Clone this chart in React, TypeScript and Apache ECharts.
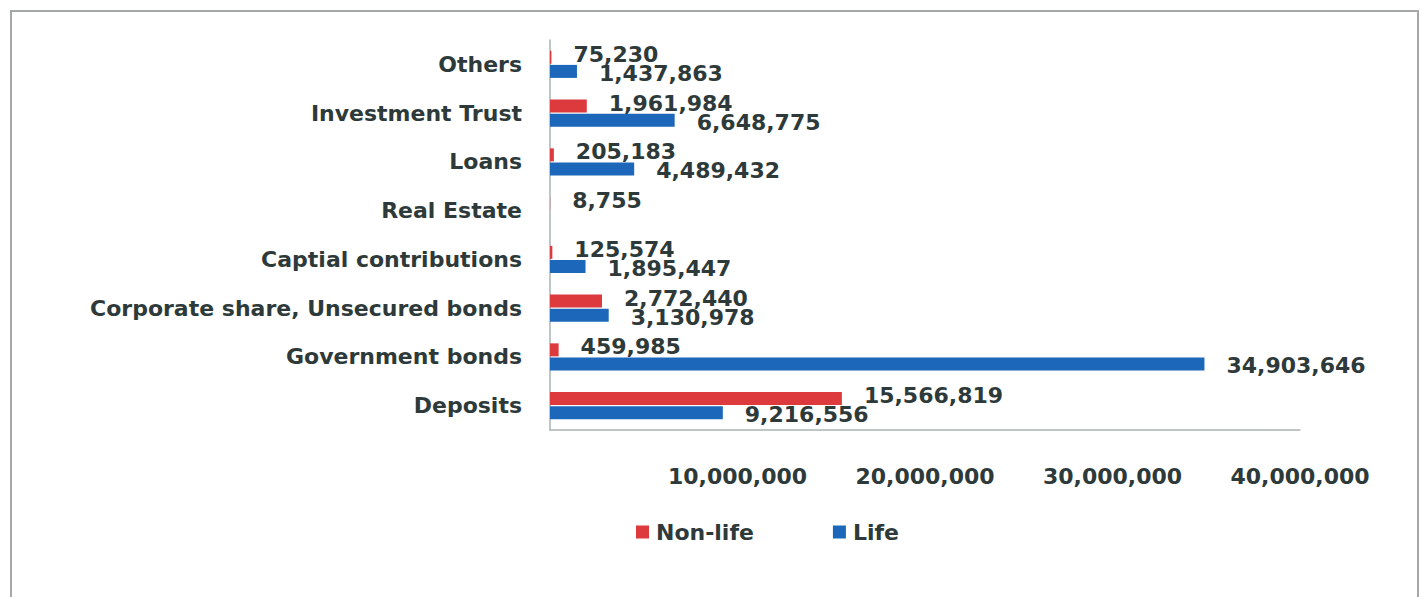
import React, { useEffect, useRef } from "react";
import * as echarts from "echarts";

const categories = [
  "Deposits",
  "Government bonds",
  "Corporate share, Unsecured bonds",
  "Captial contributions",
  "Real Estate",
  "Loans",
  "Investment Trust",
  "Others",
];
const nonLifeValues: (number | string)[] = [15566819, 459985, 2772440, 125574, 8755, 205183, 1961984, 75230];
const lifeValues: (number | string)[] = [9216556, 34903646, 3130978, 1895447, "-", 4489432, 6648775, 1437863];
const seriesNames = ["Non-life", "Life"];
const xTicks = { min: 0, max: 40000000, interval: 10000000 };

const RED = "#dc3a3c";
const BLUE = "#1c67ba";
const TEXT = "#2e3a3a";
const FONT = "DejaVu Sans";

const fmt = (v: number) => Math.round(v).toLocaleString("en-US");

export default function App() {
  const ref = useRef<HTMLDivElement>(null);
  useEffect(() => {
    if (!ref.current) return;
    const chart = echarts.init(ref.current, null, { renderer: "svg" });
    const labelBase = {
      show: true,
      position: "right" as const,
      distance: 22,
      color: TEXT,
      fontFamily: FONT,
      fontWeight: "bold" as const,
      fontSize: 22,
      formatter: (p: any) => fmt(Number(p.value)),
    };
    chart.setOption({
      animation: false,
      backgroundColor: "#ffffff",
      textStyle: { fontFamily: FONT },
      graphic: [
        {
          type: "rect",
          shape: { x: 11, y: 11, width: 1407, height: 700 },
          style: { fill: "none", stroke: "#a4a8a8", lineWidth: 2 },
          silent: true,
        },
      ],
      grid: { left: 550, right: 124, top: 40, bottom: 167, containLabel: false },
      legend: {
        data: seriesNames,
        left: 631,
        top: 516,
        itemWidth: 13,
        itemHeight: 13,
        itemGap: 79,
        icon: "rect",
        textStyle: { color: TEXT, fontFamily: FONT, fontWeight: "bold", fontSize: 22, padding: [0, 0, 0, 2] },
      },
      xAxis: {
        type: "value",
        min: xTicks.min,
        max: xTicks.max,
        interval: xTicks.interval,
        axisLine: { show: true, lineStyle: { color: "#aab4b0", width: 1.5 } },
        axisTick: { show: false },
        splitLine: { show: false },
        axisLabel: {
          showMinLabel: false,
          margin: 35,
          color: TEXT,
          fontFamily: FONT,
          fontWeight: "bold",
          fontSize: 22,
          formatter: (v: number) => fmt(v),
        },
      },
      yAxis: {
        type: "category",
        data: categories,
        axisLine: { show: true, lineStyle: { color: "#aab4b0", width: 1.5 } },
        axisTick: { show: false },
        axisLabel: {
          margin: 28,
          color: TEXT,
          fontFamily: FONT,
          fontWeight: "bold",
          fontSize: 22,
        },
      },
      series: [
        {
          name: seriesNames[0],
          type: "bar",
          data: nonLifeValues,
          barWidth: 13,
          barGap: "8%",
          itemStyle: { color: RED },
          label: { ...labelBase, offset: [0, -3] },
        },
        {
          name: seriesNames[1],
          type: "bar",
          data: lifeValues,
          barWidth: 13,
          barGap: "8%",
          itemStyle: { color: BLUE },
          label: { ...labelBase, offset: [0, 2] },
        },
      ],
    });
    return () => chart.dispose();
  }, []);
  return (
    <div
      ref={ref}
      style={{ position: "fixed", left: 0, top: 0, width: 1424, height: 597 }}
    />
  );
}
